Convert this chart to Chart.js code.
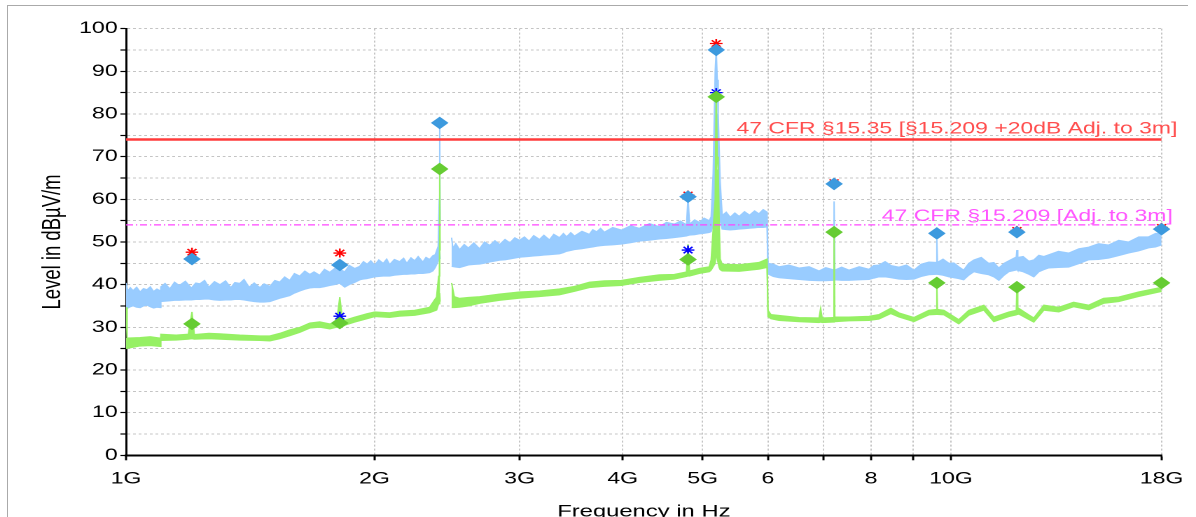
<!DOCTYPE html>
<html>
<head>
<meta charset="utf-8">
<script src="https://cdn.jsdelivr.net/npm/chart.js@4.4.0/dist/chart.umd.min.js"></script>
<style>
html, body { margin:0; padding:0; background:#fff; overflow:hidden; }
#frame { position:absolute; left:7px; top:5px; width:1180px; height:600px; border-top:1px solid #aaa; border-left:1px solid #aaa; }
#c { position:absolute; left:0; top:0; }
</style>
</head>
<body>
<div id="frame"></div>
<!-- drawn at 854 wide and stretched to 1196, like the original export -->
<canvas id="c" width="854" height="530" style="width:1196px;height:530px"></canvas>
<script>
// frequency in GHz, level in dBuV/m
// peak trace (band: upper / lower edge), one line per stretch of the sweep
const pkFreq = [
  1.000,1.005,1.012,1.02,1.03,1.04,1.05,1.06,1.07,1.08,1.09,1.099,
  1.102,1.115,1.13,1.145,1.16,1.18,1.20,1.215,1.229,1.245,1.26,1.28,1.30,1.32,1.34,1.355,1.374,1.39,1.41,1.43,1.453,1.47,1.494,1.515,1.536,
  1.557,1.579,1.60,1.624,1.647,1.670,1.69,1.717,1.74,1.766,1.79,1.816,1.841,1.865,1.893,1.92,1.94,1.96,1.98,2.002,2.025,2.05,2.07,2.087,
  2.115,2.146,2.17,2.19,2.215,2.238,2.26,2.29,2.31,2.333,2.355,2.37,2.39,2.397,2.400,2.403,2.44,
  2.481,2.49,2.51,2.537,2.57,2.60,2.64,2.683,2.72,2.76,2.80,2.837,2.88,2.92,2.96,2.999,3.04,3.08,3.12,3.171,3.21,3.26,3.30,3.353,3.39,3.42,
  3.46,3.496,3.57,3.645,3.68,3.72,3.76,3.80,3.89,3.985,4.09,4.19,4.31,4.43,4.52,4.619,4.70,4.78,4.80,4.82,4.89,4.953,5.02,5.093,5.12,
  5.149,5.178,5.193,5.208,5.222,5.236,5.251,
  5.28,5.34,5.40,5.47,5.537,5.62,5.70,5.78,5.85,5.92,5.985,
  6.00,6.09,6.188,6.36,6.545,6.73,6.92,7.05,7.20,7.216,7.23,7.37,7.522,7.74,7.955,8.06,8.178,8.32,8.456,8.648,8.83,9.018,9.2,9.402,9.60,9.613,9.63,
  9.78,9.941,10.08,10.22,10.36,10.51,10.66,10.88,11.11,11.27,11.43,11.6,11.75,12.00,12.02,12.05,12.23,12.43,12.60,12.78,12.96,13.14,13.5,13.89,
  14.29,14.69,15.1,15.53,15.97,16.42,16.89,17.36,17.7,18.00];
const pkHi = [
  40.4,38.5,39.3,38.6,39.4,38.3,39.1,38.8,39.5,38.4,39.0,38.6,
  39.5,40.3,39.0,40.6,39.8,40.8,39.2,40.4,40.2,41.0,39.4,40.7,40.0,40.9,39.3,40.5,40.3,41.2,39.4,40.4,39.3,40.2,39.6,41.0,40.6,
  41.8,41.0,42.6,42.0,43.2,42.4,43.0,42.2,43.6,42.9,43.8,43.6,43.0,44.5,43.8,44.3,45.4,44.8,45.6,44.6,45.8,45.0,46.0,44.7,
  45.9,45.4,46.2,45.0,46.3,45.6,46.6,45.3,46.4,45.9,46.8,47.0,49.0,60.0,77.5,55.0,null,
  51.0,48.5,49.6,48.2,49.4,48.6,49.8,48.4,50.0,49.2,50.3,49.4,50.6,49.8,51.0,50.4,51.2,50.2,51.5,50.6,51.6,50.5,51.8,51.0,52.0,51.2,
  52.2,51.4,52.5,51.8,52.9,52.4,53.2,52.3,53.4,52.8,53.8,53.2,54.3,53.6,54.6,54.2,54.9,54.0,60.5,54.2,55.2,54.6,55.6,55.0,55.9,
  66.0,90.0,95.0,88.0,80.0,72.0,64.0,
  56.2,57.0,55.8,56.8,56.0,57.1,56.3,57.3,56.6,57.6,57.0,
  45.0,44.8,44.2,44.6,43.9,44.2,43.2,44.0,43.5,59.5,43.4,44.1,43.4,44.2,43.6,44.5,44.6,45.4,44.5,44.1,44.6,43.4,44.8,45.3,45.2,50.5,45.2,
  46.0,45.0,45.1,44.2,43.4,45.0,45.8,46.4,45.0,45.2,43.9,45.0,45.6,46.5,48.1,46.4,46.6,45.5,45.8,46.9,46.6,47.0,47.8,47.4,
  48.4,48.8,49.6,49.3,50.4,50.0,51.2,51.2,52.0,52.1];
const pkLo = [
  34.0,34.5,34.8,35.0,34.7,34.6,35.0,35.2,34.8,34.5,34.7,34.6,
  36.0,36.1,36.2,36.3,36.3,36.4,36.4,36.5,36.5,36.6,36.6,36.4,36.3,36.4,36.4,36.5,36.5,36.4,36.2,36.0,35.9,35.9,36.0,36.4,36.8,
  37.1,37.4,38.0,38.5,38.9,39.2,39.3,39.3,39.5,39.8,40.0,40.3,39.4,40.0,40.5,41.1,41.3,41.4,41.6,41.8,41.9,42.0,42.0,42.0,
  42.2,42.3,42.4,42.4,42.5,42.5,42.6,42.6,42.7,42.8,43.2,44.0,45.5,47.0,48.0,46.0,null,
  44.3,44.2,44.1,44.0,44.3,44.6,44.7,44.8,45.0,45.3,45.5,45.7,45.8,46.0,46.2,46.4,46.5,46.6,46.7,46.8,46.9,47.0,47.1,47.2,47.5,47.8,
  48.0,48.2,48.4,48.7,48.8,49.0,49.1,49.2,49.3,49.5,49.8,50.2,50.4,50.7,50.8,51.0,51.2,51.4,51.5,51.6,51.7,51.9,52.0,52.2,52.4,
  54.0,60.0,70.0,75.0,68.0,60.0,55.0,
  53.0,52.9,52.8,52.9,53.0,53.1,53.2,53.3,53.4,53.4,53.5,
  42.5,41.9,41.6,41.4,41.2,41.0,40.9,40.9,41.0,41.2,41.1,41.0,41.0,41.1,41.2,41.5,41.8,41.8,41.6,41.3,41.2,41.3,41.9,42.3,42.4,42.5,42.4,
  42.2,41.8,41.6,41.4,41.1,42.2,43.0,42.6,42.3,41.8,41.0,42.2,43.0,43.4,43.6,43.3,43.0,42.4,41.8,43.0,43.5,43.9,44.0,44.1,
  44.9,45.8,45.9,46.2,46.8,47.4,47.9,48.6,48.8,49.3];

// average trace (band: upper / lower edge)
const avFreq = [1.000,1.003,1.04,1.07,1.099,1.102,1.15,1.19,1.202,1.21,1.26,1.30,1.374,1.453,1.494,1.536,1.579,1.624,1.670,1.717,1.766,1.80,1.816,1.83,1.893,1.96,2.002,2.087,2.146,2.238,2.333,2.379,2.393,2.400,2.403,2.44,2.481,2.50,2.537,2.60,2.683,2.837,2.999,3.171,3.353,3.496,3.645,3.80,3.985,4.19,4.43,4.619,4.78,4.80,4.82,4.953,5.093,5.12,5.178,5.193,5.208,5.222,5.236,5.251,5.28,5.537,5.85,5.985,6.00,6.05,6.188,6.545,6.92,6.95,6.98,7.20,7.216,7.23,7.522,7.955,8.178,8.456,8.648,9.018,9.402,9.60,9.613,9.63,9.804,10.22,10.51,10.96,11.27,11.75,12.00,12.02,12.05,12.43,12.60,12.96,13.51,14.08,14.69,15.31,15.97,16.89,18.00];
const avHi = [34.7,27.5,27.6,27.8,27.5,28.4,28.2,28.4,33.6,28.3,28.6,28.5,28.2,28.0,28.0,28.6,29.4,30.0,31.0,31.3,30.8,31.3,37.1,31.5,32.4,33.2,33.6,33.4,33.8,34.0,34.7,37.1,42.0,67.0,48.0,null,40.4,37.2,36.8,37.0,37.2,37.8,38.3,38.5,39.0,39.6,40.6,40.9,41.0,41.7,42.3,42.4,43.0,49.5,43.2,43.8,44.2,45.8,60.0,86.0,70.0,67.0,55.0,46.0,44.8,44.7,45.2,46.0,34.0,33.0,32.8,32.3,32.2,34.4,32.2,32.3,52.0,32.4,32.4,32.6,33.0,34.5,33.4,32.3,34.0,34.2,40.2,34.2,34.0,31.8,34.0,35.2,32.4,33.6,34.0,39.4,34.6,32.9,32.2,35.2,34.7,35.9,35.2,36.8,37.1,38.3,39.4];
const avLo = [25.0,25.0,25.6,25.7,25.5,26.9,27.0,27.2,27.3,27.2,27.3,27.2,27.0,26.9,26.8,27.3,28.0,28.8,29.8,30.0,29.6,30.0,30.2,30.3,31.2,32.0,32.5,32.3,32.6,32.8,33.4,34.0,35.5,38.0,36.0,null,34.6,34.6,34.7,35.0,35.6,36.3,36.8,37.2,37.6,38.4,39.3,39.6,39.8,40.5,41.0,41.3,41.9,42.0,42.0,42.6,43.0,43.4,45.0,48.0,46.0,45.0,44.0,43.5,43.2,43.1,43.6,44.0,32.5,32.0,31.6,31.3,31.1,31.2,31.1,31.2,31.3,31.3,31.5,31.6,31.9,33.2,32.4,31.3,32.9,33.0,33.1,33.0,32.9,30.8,32.8,34.0,31.3,32.5,32.9,33.0,33.2,31.8,31.2,34.0,33.6,34.8,34.1,35.6,36.0,37.2,38.4];

// final measurement markers
const markFreq = [1.202,1.816,2.400,4.80,5.193,7.216,9.613,12.02,18.00];
const pkMarkVal = [46.0,44.6,77.9,60.6,95.0,63.6,52.0,52.3,53.0];
const avMarkVal = [30.8,31.0,67.1,45.9,84.0,52.3,40.4,39.4,40.4];
// critical frequencies (asterisks)
const pkStarFreq = [1.202,1.816,4.80,5.193,7.216,12.02,18.00];
const pkStarVal = [47.6,47.4,61.0,96.5,63.9,52.7,53.4];
const avStarFreq = [1.816,4.80,5.193];
const avStarVal = [32.6,48.1,85.0];

// limits
const limitPeak = 74;
const limitAvg = 54;
const limitPeakText = '47 CFR §15.35 [§15.209 +20dB Adj. to 3m]';
const limitAvgText = '47 CFR §15.209 [Adj. to 3m]';

// axes
const xTickVals = [1,2,3,4,5,6,7,8,9,10,18];
const xTickText = ['1G','2G','3G','4G','5G','6','','8','','10G','18G'];

const FONT = '"Liberation Sans", Arial, sans-serif';

function pts(fs, vs){
  return fs.map((f, i) => ({x: f, y: vs[i]}));
}

// limit line captions
const limitLabels = {
  id: 'limitLabels',
  afterDatasetsDraw(chart){
    const ctx = chart.ctx, xs = chart.scales.x, ys = chart.scales.y;
    const right = xs.getPixelForValue(18);
    ctx.save();
    ctx.font = '16.4px ' + FONT;
    ctx.textAlign = 'right';
    ctx.textBaseline = 'alphabetic';
    ctx.fillStyle = '#ff4d4d';
    ctx.fillText(limitPeakText, right + 11.3, ys.getPixelForValue(limitPeak) - 6);
    ctx.fillStyle = '#ff55ff';
    ctx.fillText(limitAvgText, right + 8, ys.getPixelForValue(limitAvg) - 4);
    ctx.restore();
  }
};

var ctx = document.getElementById('c').getContext('2d');
var chart = new Chart(ctx, {
    type: 'line',
    data: {
        datasets: [
          { data: pts(markFreq, pkMarkVal), showLine: false, pointStyle: 'rectRot', pointRadius: 5.6,
            backgroundColor: '#3d9ade', borderColor: '#3d9ade', borderWidth: 1, order: 0, clip: false },
          { data: pts(markFreq, avMarkVal), showLine: false, pointStyle: 'rectRot', pointRadius: 5.6,
            backgroundColor: '#66cc33', borderColor: '#66cc33', borderWidth: 1, order: 1, clip: false },
          { data: pts(pkStarFreq, pkStarVal), showLine: false, pointStyle: 'star', pointRadius: 4.5,
            borderColor: '#ff0000', borderWidth: 1.3, order: 2, clip: false },
          { data: pts(avStarFreq, avStarVal), showLine: false, pointStyle: 'star', pointRadius: 4.5,
            borderColor: '#0000ff', borderWidth: 1.3, order: 2, clip: false },
          { data: [{x: 1, y: limitPeak}, {x: 18, y: limitPeak}], borderColor: '#ff3b3b', borderWidth: 2.5,
            pointRadius: 0, order: 4 },
          { data: [{x: 1, y: limitAvg}, {x: 18, y: limitAvg}], borderColor: '#ff44ff', borderWidth: 1.2,
            borderDash: [5, 2, 1, 2], pointRadius: 0, order: 4 },
          { data: pts(avFreq, avHi), borderColor: '#96f064', borderWidth: 1, pointRadius: 0, fill: false, order: 5 },
          { data: pts(avFreq, avLo), borderColor: '#96f064', backgroundColor: '#96f064', borderWidth: 1,
            pointRadius: 0, fill: '-1', order: 5 },
          { data: pts(pkFreq, pkHi), borderColor: '#99ccff', borderWidth: 1, pointRadius: 0, fill: false, order: 6 },
          { data: pts(pkFreq, pkLo), borderColor: '#99ccff', backgroundColor: '#99ccff', borderWidth: 1,
            pointRadius: 0, fill: '-1', order: 6 }
        ]
    },
    options: {
      responsive: false,
      devicePixelRatio: 2,
      animation: false,
      spanGaps: false,
      elements: { line: { tension: 0 } },
      layout: { padding: { left: 0, right: 23.6, top: 28.6, bottom: 0 } },
      plugins: { legend: { display: false }, tooltip: { enabled: false } },
      scales: {
        x: {
          type: 'logarithmic',
          min: 1,
          max: 18,
          afterBuildTicks: s => { s.ticks = xTickVals.map(v => ({value: v})); },
          afterFit: s => { s.height = 74.7; },
          ticks: {
            autoSkip: false, maxRotation: 0, padding: 9, color: '#000',
            font: { family: FONT, size: 16.5 },
            callback: v => xTickText[xTickVals.indexOf(v)]
          },
          grid: { color: '#c4c4c4', lineWidth: 1, tickLength: 5, tickColor: '#000', tickWidth: 1.5, tickBorderDash: [] },
          border: { color: '#000', width: 2, dash: [2, 2] },
          title: { display: true, text: 'Frequency in Hz', color: '#000',
                   font: { family: FONT, size: 17 }, padding: { top: 0, bottom: 8 } }
        },
        y: {
          min: 0,
          max: 100,
          afterFit: s => { s.width = 90; },
          ticks: {
            stepSize: 5, autoSkip: false, padding: 2, color: '#000',
            font: { family: FONT, size: 16.5 },
            callback: v => (v % 10 === 0 ? v : '')
          },
          grid: { color: '#c4c4c4', lineWidth: 1, tickLength: 4, tickColor: '#000', tickWidth: 1.2, tickBorderDash: [] },
          border: { color: '#000', width: 1.5, dash: [2, 2] },
          title: { display: true, text: 'Level in dBµV/m', color: '#000',
                   font: { family: FONT, size: 18.5 }, padding: { top: 26.8, bottom: 0 } }
        }
      }
    },
    plugins: [limitLabels]
});
</script>
</body>
</html>
